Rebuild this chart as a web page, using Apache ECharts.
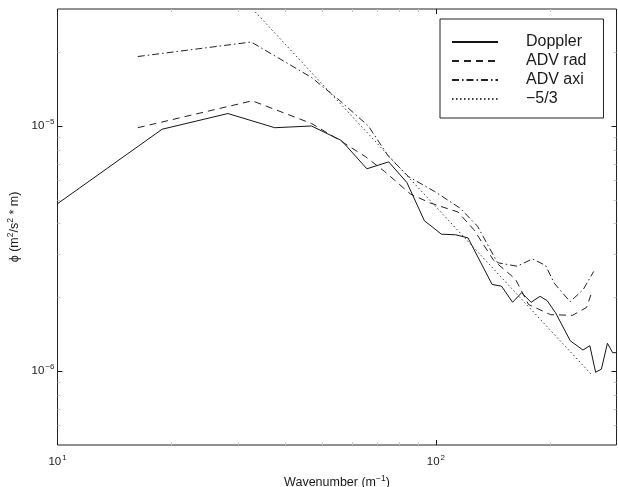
<!DOCTYPE html>
<html>
<head>
<meta charset="utf-8">
<script src="https://cdn.jsdelivr.net/npm/echarts@6/dist/echarts.min.js"></script>
<style>
  html, body { margin: 0; padding: 0; background: #fff; }
  #chart { width: 618px; height: 487px; }
</style>
</head>
<body>
<div id="chart"></div>
<script>
// Wavenumber spectra: Doppler vs ADV (radial / axial) with a -5/3 reference slope
const dopplerK   = [10, 18.9, 28.2, 37.5, 46.9, 56.3, 65.7, 75.0, 83.8, 93.2, 103.4, 112.6, 121.5, 140.7, 149.1, 159.4, 168.4, 178.4, 188.4, 196.7, 207.1, 226.5, 244.6, 255.1, 264.2, 273.7, 283.9, 293.0, 300];
const dopplerPhi = [4.82e-6, 9.70e-6, 1.124e-5, 9.84e-6, 1.0e-5, 8.72e-6, 6.69e-6, 7.14e-6, 5.88e-6, 4.11e-6, 3.62e-6, 3.60e-6, 3.50e-6, 2.26e-6, 2.22e-6, 1.91e-6, 2.09e-6, 1.91e-6, 2.02e-6, 1.94e-6, 1.73e-6, 1.33e-6, 1.22e-6, 1.27e-6, 0.99e-6, 1.02e-6, 1.30e-6, 1.19e-6, 1.19e-6];

const advRadK   = [16.3, 32.7, 46.9, 55.5, 65.1, 73.2, 85.6, 96.7, 114.3, 125.9, 142.1, 162.3, 175.7, 200.9, 229.7, 250.1, 257.8];
const advRadPhi = [9.84e-6, 1.267e-5, 1.024e-5, 8.77e-6, 7.50e-6, 6.52e-6, 5.28e-6, 4.85e-6, 4.46e-6, 3.78e-6, 2.83e-6, 2.37e-6, 1.87e-6, 1.70e-6, 1.69e-6, 1.82e-6, 2.09e-6];

const advAxiK   = [16.3, 32.5, 46.9, 55.5, 66.3, 75.0, 84.6, 99.1, 115.7, 128.8, 145.4, 163.8, 180.0, 194.9, 205.2, 226.2, 244.9, 261.0];
const advAxiPhi = [1.92e-5, 2.20e-5, 1.578e-5, 1.276e-5, 1.0e-5, 7.50e-6, 6.22e-6, 5.41e-6, 4.63e-6, 3.90e-6, 2.77e-6, 2.68e-6, 2.87e-6, 2.70e-6, 2.29e-6, 1.92e-6, 2.15e-6, 2.55e-6];

const slopeK   = [33.3, 257];
const slopePhi = [2.92e-5, 9.73e-7];

const seriesNames = ['Doppler', 'ADV rad', 'ADV axi', '\u22125/3'];

const xMajor = [10, 100];
const xMinor = [20, 30, 40, 50, 60, 70, 80, 90, 200];
const yMajor = [1e-6, 1e-5];
const yMinor = [6e-7, 7e-7, 8e-7, 9e-7, 2e-6, 3e-6, 4e-6, 5e-6, 6e-6, 7e-6, 8e-6, 9e-6, 2e-5];

const X_MIN = 10, X_MAX = 300, Y_MIN = 5e-7, Y_MAX = 3e-5;

const zip = (a, b) => a.map((v, i) => [v, b[i]]);

const FONT = 'Liberation Sans, Arial, Helvetica, sans-serif';
const INK = '#1a1a1a';
const MINOR = '#c8c8c8';

function powLabel(v) {
  const e = Math.round(Math.log10(v));
  const s = e < 0 ? '\u2212' + Math.abs(e) : String(e);
  return '{b|10}{s|' + s + '}';
}
const powRich = {
  b: { fontSize: 11.5, fontFamily: FONT, color: INK },
  s: { fontSize: 8, fontFamily: FONT, color: INK, padding: [0, 0, 8, 1] }
};
const nameRich = {
  t: { fontSize: 12.5, fontFamily: FONT, color: INK },
  s: { fontSize: 8.5, fontFamily: FONT, color: INK, padding: [0, 0, 8, 0] }
};

function xAxisDef(pos, values, len, color, withLabel) {
  return {
    type: 'log', logBase: 10, min: X_MIN, max: X_MAX, position: pos,
    axisLine: { show: false },
    splitLine: { show: false },
    axisTick: { show: true, inside: true, length: len, customValues: values,
                lineStyle: { color: color, width: 1 } },
    axisLabel: withLabel ? {
      show: true, customValues: values, margin: 9,
      formatter: powLabel, rich: powRich
    } : { show: false },
    name: withLabel ? '{t|Wavenumber (m}{s|\u22121}{t|)}' : '',
    nameLocation: 'middle', nameGap: 29,
    nameTextStyle: { rich: nameRich }
  };
}

function yAxisDef(pos, values, len, color, withLabel) {
  return {
    type: 'log', logBase: 10, min: Y_MIN, max: Y_MAX, position: pos,
    axisLine: { show: false },
    splitLine: { show: false },
    axisTick: { show: true, inside: true, length: len, customValues: values,
                lineStyle: { color: color, width: 1 } },
    axisLabel: withLabel ? {
      show: true, customValues: values, margin: 3,
      formatter: powLabel, rich: powRich
    } : { show: false },
    name: withLabel ? '{t|\u03D5 (m}{s|2}{t|/s}{s|2}{t| * m)}' : '',
    nameLocation: 'middle', nameGap: 30, nameRotate: 90,
    nameTextStyle: { rich: nameRich }
  };
}

function lineSeries(name, k, phi, type, color) {
  return {
    name: name, type: 'line', xAxisIndex: 0, yAxisIndex: 0,
    data: zip(k, phi),
    showSymbol: false, symbol: 'none', smooth: false, clip: true,
    silent: true, animation: false,
    itemStyle: { color: color },
    lineStyle: { color: color, width: 1, type: type }
  };
}

const chart = echarts.init(document.getElementById('chart'), null, { renderer: 'canvas' });

chart.setOption({
  backgroundColor: '#fff',
  animation: false,
  grid: {
    left: 57.5, top: 9, right: 1.5, bottom: 42,
    show: true, borderColor: '#222', borderWidth: 1, backgroundColor: 'transparent',
    outerBoundsMode: 'none'
  },
  xAxis: [
    xAxisDef('bottom', xMajor, 5, INK, true),
    xAxisDef('top', xMajor, 5, INK, false),
    xAxisDef('bottom', xMinor, 3, MINOR, false),
    xAxisDef('top', xMinor, 3, MINOR, false)
  ],
  yAxis: [
    yAxisDef('left', yMajor, 5, INK, true),
    yAxisDef('right', yMajor, 5, INK, false),
    yAxisDef('left', yMinor, 3, MINOR, false),
    yAxisDef('right', yMinor, 3, MINOR, false)
  ],
  legend: {
    show: true, orient: 'vertical',
    left: 440, top: 19,
    padding: [15, 17, 11, 11],
    itemWidth: 46, itemHeight: 14, itemGap: 3,
    backgroundColor: '#fff', borderColor: '#222', borderWidth: 1, borderRadius: 0,
    selectedMode: false,
    itemStyle: { color: 'rgba(0,0,0,0)', borderColor: 'rgba(0,0,0,0)', borderWidth: 0, opacity: 0 },
    data: seriesNames.map(n => ({ name: n })),
    textStyle: { fontSize: 16, fontFamily: FONT, color: INK,
                 padding: [0, 0, 0, 23], width: 58 }
  },
  series: [
    lineSeries(seriesNames[0], dopplerK, dopplerPhi, 'solid', '#151515'),
    lineSeries(seriesNames[1], advRadK, advRadPhi, [7, 5], '#222'),
    lineSeries(seriesNames[2], advAxiK, advAxiPhi, [7, 3, 1.5, 3], '#222'),
    lineSeries(seriesNames[3], slopeK, slopePhi, [1.5, 2.5], '#3a3a3a')
  ]
});
</script>
</body>
</html>
